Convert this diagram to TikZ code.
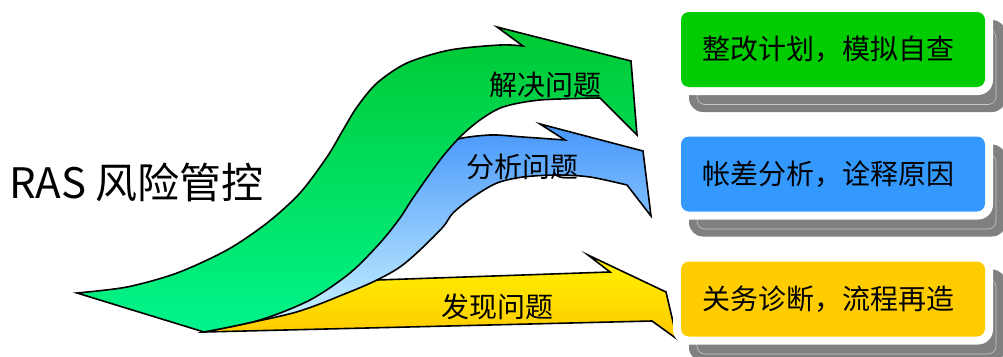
\documentclass[tikz,border=0pt]{standalone}
\usepackage{fontspec}
\newfontfamily\cjk{Noto Sans CJK SC}
\definecolor{gTop}{RGB}{0,200,50}
\definecolor{gBot}{RGB}{0,245,140}
\definecolor{bTop}{RGB}{70,150,250}
\definecolor{bBot}{RGB}{205,245,255}
\definecolor{yTop}{RGB}{255,245,0}
\definecolor{yBot}{RGB}{255,200,0}
\definecolor{boxG}{RGB}{0,204,0}
\definecolor{boxB}{RGB}{51,153,255}
\definecolor{boxY}{RGB}{255,204,0}
\definecolor{shadowgray}{RGB}{128,128,128}
\definecolor{shadowline}{RGB}{200,200,200}
\begin{document}
\begin{tikzpicture}[x=1pt,y=-1pt,
  arrowshape/.style={draw=black, line width=1.6pt, line join=miter},
  boxshape/.style={rounded corners=8pt, minimum width=304pt, minimum height=75pt, inner sep=0pt},
  boxtext/.style={font=\cjk\fontsize{28}{34}\selectfont, inner sep=0pt},
  arrowtext/.style={font=\cjk\fontsize{28}{34}\selectfont, inner sep=0pt},
  titletext/.style={font=\cjk\fontsize{42}{50}\selectfont, inner sep=0pt, anchor=west}]
\useasboundingbox (0,0) rectangle (1003,356);

% ---------- yellow arrow ----------
\path[arrowshape, top color=yTop, bottom color=yBot]
  (204,332) -- (652,321) -- (677,339) -- (666,292) -- (588,255) -- (610,272) -- (377,280)
  -- plot[smooth] coordinates {(377,280) (347,290) (293,309) (204,332)} -- cycle;

% ---------- blue arrow ----------
\path[arrowshape, top color=bTop, bottom color=bBot]
  plot[smooth] coordinates {(204,332) (260,316) (310,295) (350,268) (380,237) (400,212) (420,183) (440,155) (455,140) (490,135) (523,137) (565,140)}
  -- (540,124) -- (643,151) -- (651,216) -- (627,185)
  -- plot[smooth] coordinates {(627,185) (590,177) (557,175) (523,177) (497,183) (473,197) (453,213) (443,227) (420,250) (400,267) (377,280) (347,293) (293,313) (204,332)}
  -- cycle;

% ---------- green arrow ----------
\path[arrowshape, top color=gTop, bottom color=gBot]
  plot[smooth] coordinates {(77,293) (127,287) (177,273) (227,250) (267,223) (300,193) (327,157) (343,130) (357,107) (377,83) (407,63) (450,50) (500,45) (523,46)}
  -- (497,27) -- (631,61) -- (637,135) -- (600,98)
  -- plot[smooth] coordinates {(600,98) (540,100) (503,107) (480,120) (460,137) (440,160) (413,198) (400,218) (380,243) (350,273) (310,300) (260,320) (204,332)}
  -- cycle;

% ---------- arrow labels ----------
\node[arrowtext] (l1) at (545,85) {解决问题};
\node[arrowtext] (l2) at (522,166.5) {分析问题};
\node[arrowtext] (l3) at (497,306.5) {发现问题};

% ---------- title ----------
\node[titletext] (title) at (9,182) {RAS 风险管控};

% ---------- boxes ----------
\foreach \cy/\col/\nm/\txt in {49.5/boxG/b1/整改计划，模拟自查, 174/boxB/b2/帐差分析，诠释原因, 299/boxY/b3/关务诊断，流程再造}{
  \fill[shadowgray, rounded corners=14pt] (689,\cy-29.5) rectangle (1006,\cy+62.5);
  \draw[shadowline, line width=0.6pt, rounded corners=8pt] (697,\cy-20) rectangle (996,\cy+55);
  \fill[white, rounded corners=15pt] (673,\cy-45.5) rectangle (993,\cy+45.5);
  \node[boxshape, fill=\col] (\nm) at (833,\cy) {};
  \node[boxtext] (\nm t) at (828.5,\cy) {\txt};
}
\end{tikzpicture}
\end{document}
